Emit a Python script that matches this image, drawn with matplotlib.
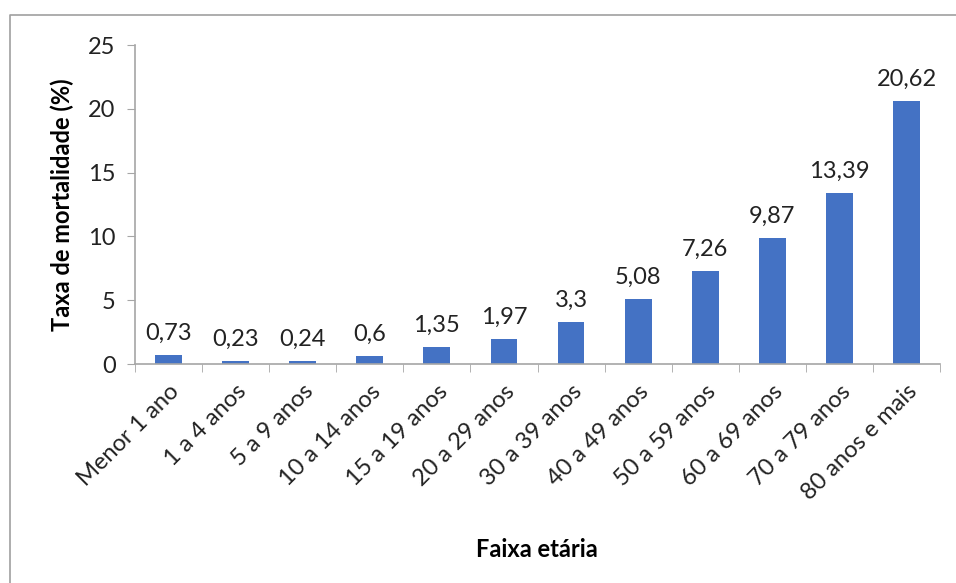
import numpy as np
import matplotlib.pyplot as plt
from matplotlib.lines import Line2D

faixas = ['Menor 1 ano', '1 a 4 anos', '5 a 9 anos', '10 a 14 anos', '15 a 19 anos',
          '20 a 29 anos', '30 a 39 anos', '40 a 49 anos', '50 a 59 anos',
          '60 a 69 anos', '70 a 79 anos', '80 anos e mais']
taxa = [0.73, 0.23, 0.24, 0.6, 1.35, 1.97, 3.3, 5.08, 7.26, 9.87, 13.39, 20.62]

plt.rcParams['font.family'] = ['Lato', 'DejaVu Sans']
fs = 17

fig = plt.figure(figsize=(9.56, 5.83), dpi=100)
ax = fig.add_axes([0.1412, 0.3756, 0.8421, 0.5472])

x = np.arange(len(faixas))
ax.bar(x, taxa, width=0.4, color='#4472C4', zorder=2)

for xi, v in zip(x, taxa):
    lbl = ('%g' % v).replace('.', ',')
    ax.annotate(lbl, (xi, v), xytext=(0, 8), textcoords='offset points',
                ha='center', va='bottom', fontsize=fs, color='#222222')

ax.set_xlim(-0.5, len(faixas) - 0.5)
ax.set_ylim(0, 25)
ax.set_yticks([0, 5, 10, 15, 20, 25])
ax.tick_params(axis='y', labelsize=fs, length=6, color='#A6A6A6', labelcolor='#222222', pad=8)

ax.set_xticks(x)
ax.set_xticklabels(faixas, rotation=45, ha='right', rotation_mode='anchor', fontsize=fs, color='#222222')
ax.tick_params(axis='x', length=0, pad=12)
ax.set_xticks(np.arange(len(faixas) + 1) - 0.5, minor=True)
ax.tick_params(axis='x', which='minor', length=6, color='#A6A6A6')

for s in ['top', 'right']:
    ax.spines[s].set_visible(False)
for s in ['left', 'bottom']:
    ax.spines[s].set_color('#A6A6A6')
    ax.spines[s].set_linewidth(1.2)

ax.set_ylabel('Taxa de mortalidade (%)', fontsize=fs, fontweight='bold', labelpad=10)
fig.text(0.562, 0.058, 'Faixa etária', fontsize=fs, fontweight='bold', ha='center', va='center')

# chart border (left and top edges)
fig.add_artist(Line2D([0.0105, 0.0105, 1.0], [0.0, 0.974, 0.974], color='#A0A0A0', lw=1.2))

fig.savefig('out.png', dpi=100)
